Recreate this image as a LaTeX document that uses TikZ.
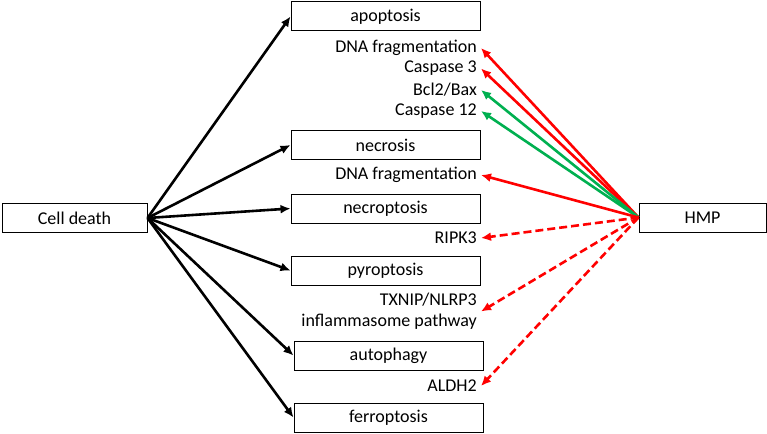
\documentclass[tikz,border=0pt]{standalone}
\usepackage{fontspec}
\setmainfont{Carlito}
\usetikzlibrary{arrows.meta}
\definecolor{hmpred}{RGB}{255,0,0}
\definecolor{hmpgreen}{RGB}{0,176,80}

\begin{document}
\begin{tikzpicture}[x=1pt, y=-1pt, font=\fontsize{18}{21}\selectfont]
\tikzstyle{vertexr}=[rectangle, draw=black, line width=1pt, minimum width=189pt, minimum height=29pt, inner sep=2pt]
\tikzstyle{vertexl}=[anchor=east, inner sep=4pt, align=right]
\tikzstyle{drawstyle}=[line width=2.6pt, -{Latex[length=10pt,width=9pt]}]
\tikzstyle{dashstyle}=[drawstyle, dash pattern=on 8pt off 4pt]

\useasboundingbox (0,0) rectangle (767,433);

\node[vertexr, minimum width=145pt] (CD) at (74.5,218) {Cell death};
\node[vertexr, minimum width=127pt] (HMP) at (702.5,217.5) {HMP};

\node[vertexr] (G0) at (385.5,16.5) {apoptosis};
\node[vertexr] (G1) at (385.5,145) {necrosis};
\node[vertexr] (G2) at (385.5,208.5) {necroptosis};
\node[vertexr] (G3) at (385.5,270.5) {pyroptosis};
\node[vertexr] (G4) at (388.5,355.5) {autophagy};
\node[vertexr] (G5) at (388.5,417.5) {ferroptosis};
\draw[drawstyle] (CD.east) -- (G0.west);
\draw[drawstyle] (CD.east) -- (G1.west);
\draw[drawstyle] (CD.east) -- (G2.west);
\draw[drawstyle] (CD.east) -- (G3.west);
\draw[drawstyle] (CD.east) -- (G4.west);
\draw[drawstyle] (CD.east) -- (G5.west);

\node[vertexl] (L0) at (481,48) {DNA fragmentation};
\node[vertexl] (L1) at (481,68.5) {Caspase 3};
\node[vertexl] (L2) at (481,90) {Bcl2/Bax};
\node[vertexl] (L3) at (481,111) {Caspase 12};
\node[vertexl] (L4) at (481,175) {DNA fragmentation};
\node[vertexl] (L5) at (481,238) {RIPK3};
\node[vertexl] (L6) at (481,311.5) {TXNIP/NLRP3\\inflammasome pathway};
\node[vertexl] (L7) at (481,386) {ALDH2};
\draw[drawstyle, hmpred] (HMP.west) -- (L0.east);
\draw[drawstyle, hmpred] (HMP.west) -- (L1.east);
\draw[drawstyle, hmpgreen] (HMP.west) -- (L2.east);
\draw[drawstyle, hmpgreen] (HMP.west) -- (L3.east);
\draw[drawstyle, hmpred] (HMP.west) -- (L4.east);
\draw[dashstyle, hmpred] (HMP.west) -- (L5.east);
\draw[dashstyle, hmpred] (HMP.west) -- (L6.east);
\draw[dashstyle, hmpred] (HMP.west) -- (L7.east);
\end{tikzpicture}
\end{document}
